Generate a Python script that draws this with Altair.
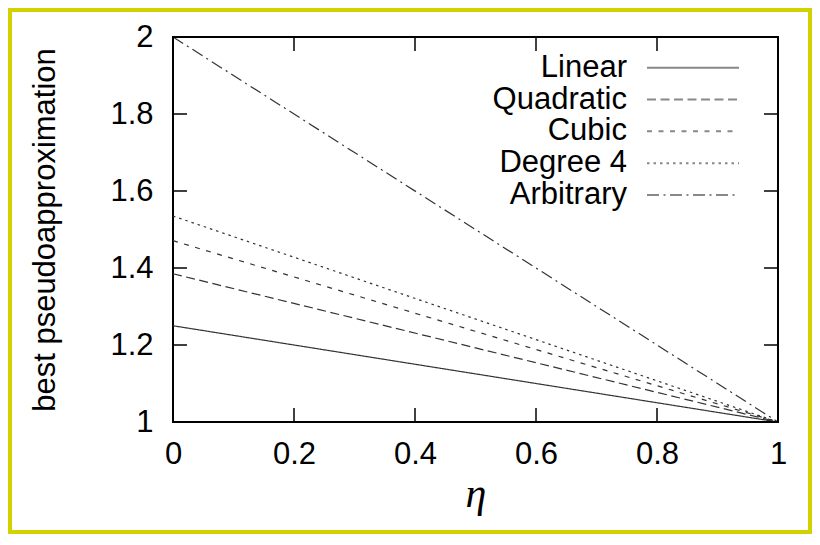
import altair as alt
import pandas as pd

# ---- data ----
eta = [0.0, 1.0]
series_names = ["Linear", "Quadratic", "Cubic", "Degree 4", "Arbitrary"]
linear = [1.25, 1.0]
quadratic = [1.385, 1.0]
cubic = [1.471, 1.0]
degree4 = [1.535, 1.0]
arbitrary = [2.0, 1.0]
x_ticks = [0, 0.2, 0.4, 0.6, 0.8, 1.0]
y_ticks = [1, 1.2, 1.4, 1.6, 1.8, 2.0]
dashes = [[1, 0], [9, 4.5], [5, 6.5], [2.5, 4], [12, 4.5, 2, 4.5]]

rows = []
for name, vals in zip(series_names, [linear, quadratic, cubic, degree4, arbitrary]):
    for x, v in zip(eta, vals):
        rows.append({"series": name, "eta": x, "value": v})
df = pd.DataFrame(rows)
legend_df = pd.DataFrame({"series": series_names, "order": list(range(len(series_names)))})
xt_df = pd.DataFrame({"eta": x_ticks})
yt_df = pd.DataFrame({"value": y_ticks})

W, H = 605, 385
FONT = "Liberation Sans"
FS = 31

xscale = alt.Scale(domain=[0, 1], nice=False, zero=False)
yscale = alt.Scale(domain=[1, 2], nice=False, zero=False)
dash_scale = alt.Scale(domain=series_names, range=dashes)
leg_scale = alt.Scale(domain=[0, 4], range=[30.7, 158])

xaxis = alt.Axis(values=x_ticks, format="~g", title="η",
                 titleFont="Liberation Serif", titleFontStyle="italic",
                 titleFontSize=42, titleFontWeight="normal",
                 titleBaseline="alphabetic", titleY=84,
                 labelPadding=17.5, labelFlush=False, labelOverlap=False)
yaxis = alt.Axis(values=y_ticks, format="~g", title="best pseudoapproximation",
                 titleFont=FONT, titleFontSize=FS, titleFontWeight="normal",
                 titleBaseline="alphabetic", titleX=-119,
                 labelPadding=20, labelFlush=False, labelOverlap=False)

lines = alt.Chart(df).mark_line(color="#333333", strokeWidth=1.2).encode(
    x=alt.X("eta:Q", scale=xscale, axis=xaxis),
    y=alt.Y("value:Q", scale=yscale, axis=yaxis),
    strokeDash=alt.StrokeDash("series:N", scale=dash_scale, legend=None),
)

bottom_ticks = alt.Chart(xt_df).mark_rule(color="black", strokeWidth=1.5).encode(
    x=alt.X("eta:Q", scale=xscale, axis=xaxis), y=alt.value(H), y2=alt.value(H - 14))
top_ticks = alt.Chart(xt_df).mark_rule(color="black", strokeWidth=1.5).encode(
    x=alt.X("eta:Q", scale=xscale, axis=xaxis), y=alt.value(0), y2=alt.value(14))
left_ticks = alt.Chart(yt_df).mark_rule(color="black", strokeWidth=1.5).encode(
    y=alt.Y("value:Q", scale=yscale, axis=None), x=alt.value(0), x2=alt.value(14))
right_ticks = alt.Chart(yt_df).mark_rule(color="black", strokeWidth=1.5).encode(
    y=alt.Y("value:Q", scale=yscale, axis=None), x=alt.value(W), x2=alt.value(W - 14))

leg_text = alt.Chart(legend_df).mark_text(
    align="right", baseline="middle", font=FONT, fontSize=FS, color="black"
).encode(
    x=alt.value(454),
    y=alt.Y("order:Q", scale=leg_scale, axis=None),
    text="series:N",
)
leg_lines = alt.Chart(legend_df).mark_rule(color="#888888", strokeWidth=2).encode(
    x=alt.value(474), x2=alt.value(566),
    y=alt.Y("order:Q", scale=leg_scale, axis=None),
    strokeDash=alt.StrokeDash("series:N", scale=dash_scale, legend=None),
)

frame = alt.Chart(pd.DataFrame({"a": [0]})).mark_rect(
    fillOpacity=0, stroke="#d2d200", strokeWidth=4
).encode(x=alt.value(-163), x2=alt.value(W + 32), y=alt.value(-27), y2=alt.value(H + 110))

chart = alt.layer(
    lines, bottom_ticks, top_ticks, left_ticks, right_ticks, leg_text, leg_lines, frame
).resolve_scale(y="independent").properties(
    width=W, height=H,
    autosize=alt.AutoSizeParams(type="none"),
    padding={"left": 165, "top": 29, "right": 34, "bottom": 112},
    background="white",
).configure_view(
    stroke="black", strokeWidth=2
).configure_axis(
    domain=False, ticks=False, grid=False,
    labelFont=FONT, labelFontSize=FS, labelColor="black",
    titleColor="black",
)

chart.save("out.html", embed_options={"renderer": "svg", "actions": False})
